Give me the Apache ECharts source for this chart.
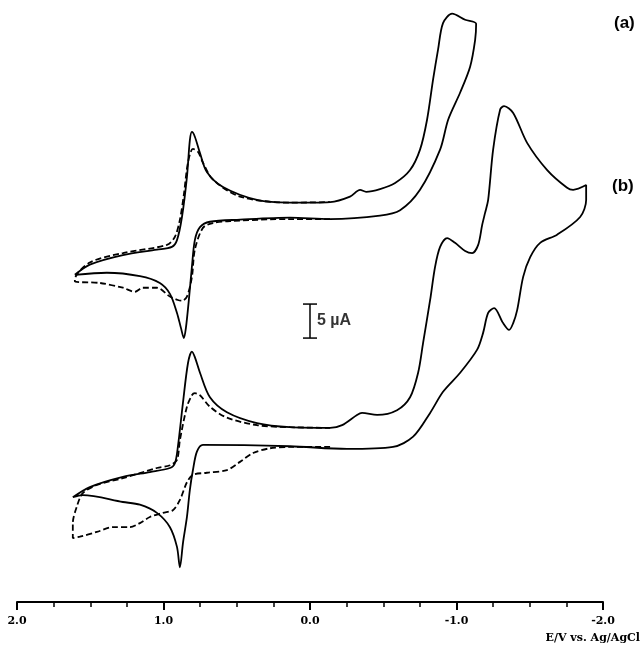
<!DOCTYPE html>
<html>
<head>
<meta charset="utf-8">
<title>CV</title>
<script src="https://cdn.jsdelivr.net/npm/echarts@6/dist/echarts.min.js"></script>
<style>
  html, body { margin: 0; padding: 0; background: #fff; }
  #chart { width: 641px; height: 645px; }
</style>
</head>
<body>
<div id="chart"></div>
<script>
// [E / V, current / uA] (traces stacked on one current axis)
const aSolid = [
  [1.605, 48.1], [1.503, 49.6], [1.277, 51.0], [1.045, 51.8], [0.943, 52.2], [0.908, 53.2],
  [0.874, 56.6], [0.840, 62.5], [0.820, 67.9], [0.806, 69.1], [0.786, 68.4], [0.751, 66.0],
  [0.704, 63.2], [0.594, 61.0], [0.362, 59.1], [0.137, 58.7], [-0.137, 58.8], [-0.273, 59.6],
  [-0.342, 60.6], [-0.383, 60.3], [-0.478, 60.7], [-0.581, 61.6], [-0.683, 63.5], [-0.751, 66.5],
  [-0.799, 70.9], [-0.840, 76.8], [-0.874, 81.2], [-0.908, 85.1], [-0.970, 86.5], [-1.059, 85.6],
  [-1.134, 85.0], [-1.127, 82.6], [-1.093, 78.7], [-1.025, 74.9], [-0.943, 70.9], [-0.888, 66.5],
  [-0.751, 60.6], [-0.615, 57.6], [-0.478, 56.8], [-0.137, 56.3], [0.137, 56.5], [0.478, 56.2],
  [0.683, 55.9], [0.751, 55.1], [0.786, 53.2], [0.806, 49.3], [0.827, 44.4], [0.847, 40.3],
  [0.861, 38.8], [0.881, 40.3], [0.908, 42.5], [0.956, 45.3], [1.025, 46.9], [1.161, 47.9],
  [1.387, 48.4], [1.605, 48.1]
];
const aDashed = [
  [-0.137, 56.3], [0.137, 56.3], [0.546, 56.0], [0.663, 55.7], [0.731, 55.0], [0.786, 51.8],
  [0.806, 47.8], [0.840, 44.9], [0.874, 44.3], [0.902, 44.4], [0.956, 44.9], [1.045, 46.2],
  [1.141, 46.2], [1.195, 45.6], [1.277, 46.2], [1.434, 46.9], [1.605, 47.1], [1.605, 47.4],
  [1.503, 49.9], [1.277, 51.3], [0.977, 52.5], [0.922, 53.7], [0.888, 56.2], [0.861, 59.9],
  [0.833, 64.6], [0.799, 66.6], [0.765, 66.2], [0.731, 64.6], [0.663, 62.1], [0.478, 59.6],
  [0.137, 58.7], [-0.137, 58.8]
];
const bSolid = [
  [1.619, 15.4], [1.503, 16.9], [1.277, 18.4], [1.093, 19.1], [0.956, 19.7], [0.922, 20.4],
  [0.902, 22.8], [0.867, 29.3], [0.833, 35.1], [0.806, 36.8], [0.786, 36.0], [0.751, 33.7],
  [0.683, 30.1], [0.567, 27.9], [0.362, 26.3], [0.137, 25.7], [-0.137, 25.6], [-0.219, 26.0],
  [-0.321, 27.5], [-0.355, 27.8], [-0.458, 27.5], [-0.594, 28.2], [-0.683, 30.1], [-0.738, 33.7],
  [-0.772, 38.1], [-0.820, 44.4], [-0.854, 49.3], [-0.888, 52.2], [-0.936, 53.5], [-0.990, 52.8],
  [-1.059, 51.6], [-1.107, 51.3], [-1.148, 52.5], [-1.175, 55.4], [-1.195, 57.2], [-1.216, 59.1],
  [-1.250, 66.5], [-1.298, 72.4], [-1.325, 72.9], [-1.387, 71.9], [-1.482, 67.5], [-1.619, 63.5],
  [-1.755, 60.9], [-1.796, 60.6], [-1.885, 61.3], [-1.885, 59.1], [-1.844, 56.6], [-1.687, 54.0],
  [-1.571, 52.8], [-1.503, 50.7], [-1.455, 47.8], [-1.414, 42.9], [-1.387, 41.0], [-1.359, 40.0],
  [-1.318, 41.0], [-1.257, 43.2], [-1.216, 42.5], [-1.182, 39.6], [-1.141, 37.1], [-1.025, 33.7],
  [-0.908, 30.9], [-0.820, 27.8], [-0.704, 24.3], [-0.567, 22.8], [-0.253, 22.5], [0.137, 22.9],
  [0.731, 23.1], [0.772, 22.1], [0.799, 19.4], [0.820, 16.5], [0.840, 12.5], [0.867, 8.7],
  [0.888, 5.1], [0.908, 8.1], [0.956, 11.0], [1.045, 13.1], [1.161, 14.3], [1.277, 14.7],
  [1.551, 15.7], [1.619, 15.4]
];
const bDashed = [
  [-0.137, 22.8], [0.137, 22.8], [0.273, 22.6], [0.389, 21.9], [0.478, 20.6], [0.567, 19.4],
  [0.704, 19.0], [0.799, 18.7], [0.840, 17.6], [0.888, 15.0], [0.936, 13.5], [1.004, 13.1],
  [1.093, 12.5], [1.161, 11.6], [1.230, 11.0], [1.346, 11.0], [1.455, 10.3], [1.571, 9.6],
  [1.619, 9.4], [1.619, 11.6], [1.592, 14.0], [1.551, 16.0], [1.455, 17.2], [1.277, 18.2],
  [1.045, 19.7], [0.956, 20.1], [0.908, 20.9], [0.888, 23.8], [0.840, 28.7], [0.806, 30.4],
  [0.786, 30.7], [0.751, 30.4], [0.683, 28.7], [0.567, 27.1], [0.362, 26.0], [0.137, 25.7],
  [-0.137, 25.6]
];
// 5 uA scale bar
const scaleBar = [[0.0, 38.8], [0.0, 43.8]];
const traceLabels = ["(a)", "(b)"];
const axisTitle = "E/V vs. Ag/AgCl";

const chart = echarts.init(document.getElementById("chart"));

const curve = (data, dashed) => ({
  type: "line",
  data: data,
  smooth: 0.3,
  symbol: "none",
  silent: true,
  lineStyle: { color: "#000", width: 1.8, type: dashed ? [6, 3] : "solid" }
});

const option = {
  backgroundColor: "#fff",
  animation: false,
  grid: { left: 17, right: 38, top: 0, bottom: 43 },
  xAxis: {
    type: "value",
    min: -2,
    max: 2,
    interval: 1,
    inverse: true,
    axisLine: { show: true, onZero: false, lineStyle: { color: "#000", width: 2 } },
    axisTick: { show: true, length: 8, lineStyle: { color: "#000", width: 2 } },
    minorTick: { show: true, splitNumber: 4, length: 5, lineStyle: { color: "#000", width: 1.5 } },
    splitLine: { show: false },
    axisLabel: {
      formatter: (v) => v.toFixed(1),
      color: "#000",
      fontFamily: "DejaVu Serif",
      fontWeight: "bold",
      fontSize: 11,
      margin: 14
    }
  },
  yAxis: { type: "value", min: 0, max: 88.5, show: false },
  graphic: [
    { type: "text", left: 614, top: 15, style: { text: traceLabels[0], font: "bold 17px 'Liberation Sans'", fill: "#000" } },
    { type: "text", left: 612, top: 178, style: { text: traceLabels[1], font: "bold 17px 'Liberation Sans'", fill: "#000" } },
    { type: "text", right: 1, top: 633, style: { text: axisTitle, font: "bold 11px 'DejaVu Serif'", fill: "#000" } }
  ],
  series: [
    curve(aSolid, false),
    curve(aDashed, true),
    curve(bSolid, false),
    curve(bDashed, true),
    {
      type: "line",
      data: scaleBar,
      symbol: "rect",
      symbolSize: [14, 1.5],
      silent: true,
      itemStyle: { color: "#000" },
      lineStyle: { color: "#000", width: 1.5 }
    },
    {
      type: "scatter",
      data: [[0.0, 41.3]],
      symbolSize: 0,
      silent: true,
      label: {
        show: true,
        position: "right",
        distance: 7,
        formatter: "5 \u00b5A",
        color: "#000",
        fontFamily: "Liberation Sans",
        fontWeight: "bold",
        fontSize: 16
      }
    }
  ]
};

chart.setOption(option);
</script>
</body>
</html>
